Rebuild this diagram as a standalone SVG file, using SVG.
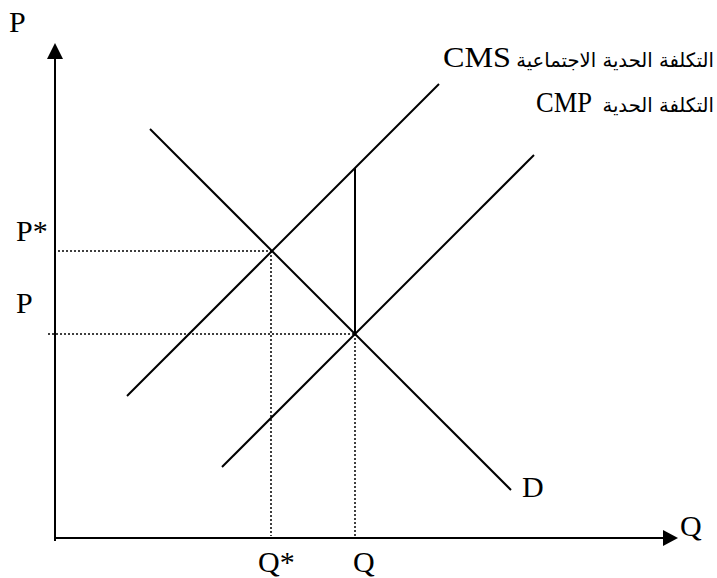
<svg xmlns="http://www.w3.org/2000/svg" width="717" height="578" viewBox="0 0 717 578">
<style>
.ax{stroke:#000;stroke-width:2;fill:none}
.cv{stroke:#000;stroke-width:2;fill:none}
.dt{stroke:#000;stroke-width:1.5;stroke-dasharray:2,2;fill:none}
.lb{font-family:"Liberation Serif","Times New Roman",serif;font-size:30px;fill:#000}
.ar{font-family:"DejaVu Sans","Noto Sans",sans-serif;font-size:19.6px;fill:#000}
</style>
<rect width="717" height="578" fill="#fff"/>
<g id="axes">
<line class="ax" x1="55" y1="58" x2="55" y2="541"/>
<polygon points="55,43 47,59 63,59" fill="#000"/>
<line class="ax" x1="55" y1="538" x2="664" y2="538"/>
<polygon points="678,538 663,530 663,546" fill="#000"/>
</g>
<g id="connectors">
<line class="dt" x1="58" y1="251" x2="272" y2="251"/>
<line class="dt" x1="48" y1="334" x2="355" y2="334"/>
<line class="dt" x1="271" y1="251" x2="271" y2="536"/>
<line class="dt" x1="355" y1="334" x2="355" y2="536"/>
<line class="cv" x1="355" y1="168" x2="355" y2="334"/>
</g>
<g id="curve-D"><line class="cv" x1="150" y1="129" x2="511" y2="490"/></g>
<g id="curve-CMS"><line class="cv" x1="127" y1="396" x2="439" y2="84"/></g>
<g id="curve-CMP"><line class="cv" x1="222" y1="467" x2="534" y2="155"/></g>
<g id="labels">
<text class="lb" x="9" y="32">P</text>
<text class="lb" x="16" y="241">P*</text>
<text class="lb" x="16" y="313">P</text>
<text class="lb" x="258" y="572">Q*</text>
<text class="lb" x="353" y="572">Q</text>
<text class="lb" x="680" y="536">Q</text>
<text class="lb" x="522" y="497">D</text>
<text class="lb" x="443" y="67" textLength="68" lengthAdjust="spacingAndGlyphs">CMS</text>
<text class="ar" x="714" y="67" text-anchor="end">التكلفة الحدية الاجتماعية</text>
<text class="lb" x="536" y="112" textLength="56" lengthAdjust="spacingAndGlyphs">CMP</text>
<text class="ar" x="714" y="112" text-anchor="end">التكلفة الحدية</text>
</g>
</svg>
